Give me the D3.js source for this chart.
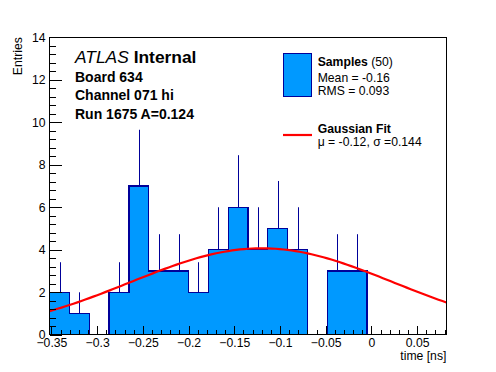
<!DOCTYPE html>
<html>
<head>
<meta charset="utf-8">
<script src="https://cdn.jsdelivr.net/npm/d3@7"></script>
<style>
  html, body { margin: 0; padding: 0; background: #fff; }
  svg { display: block; font-family: "Liberation Sans", Arial, Helvetica, sans-serif; }
</style>
</head>
<body>
<svg id="chart" width="496" height="372"></svg>
<script>
// ---- data ----
const binLow = -0.352;
const binWidth = 0.0217;
const counts = [2, 1, 0, 2, 7, 3, 3, 2, 4, 6, 4, 5, 4, 0, 3, 3, 0, 0, 0, 0];
const xMajorTicks = [-0.35, -0.3, -0.25, -0.2, -0.15, -0.1, -0.05, 0, 0.05];
const yMajorTicks = [0, 2, 4, 6, 8, 10, 12, 14];
const yMax = 14;
const fitMu = -0.12, fitSigma = 0.144, fitAmp = 4.07;
const headerLines = ["Board 634", "Channel 071 hi", "Run 1675 A=0.124"];
const legendSamples = { name: "Samples", count: "(50)", lines: ["Mean = -0.16", "RMS = 0.093"] };
const legendFit = { name: "Gaussian Fit", line: "\u03BC = -0.12, \u03C3 =0.144" };

// ---- layout ----
const W = 496, H = 372;
const fx0 = 49.6, fx1 = 446.4, fy0 = 37.2, fy1 = 334.8;
const fillColor = "#0099ff", edgeColor = "#000099", fitColor = "#ff0000";

const svg = d3.select("#chart");
const nb = counts.length;
const xMin = binLow, xMax = binLow + nb * binWidth;
const x = d3.scaleLinear().domain([xMin, xMax]).range([fx0, fx1]);
const y = d3.scaleLinear().domain([0, yMax]).range([fy1, fy0]);

const defs = svg.append("defs");
defs.append("clipPath").attr("id", "clip").append("rect")
  .attr("x", fx0).attr("y", fy0).attr("width", fx1 - fx0).attr("height", fy1 - fy0);

const bins = counts.map((c, i) => ({ x0: binLow + i * binWidth, x1: binLow + (i + 1) * binWidth, c }));

const plot = svg.append("g").attr("clip-path", "url(#clip)");

// error bars (upper part visible above bars)
plot.selectAll("line.err").data(bins.filter(b => b.c > 0)).enter().append("line")
  .attr("x1", b => Math.round(x((b.x0 + b.x1) / 2)) + 0.5)
  .attr("x2", b => Math.round(x((b.x0 + b.x1) / 2)) + 0.5)
  .attr("y1", b => y(b.c - Math.sqrt(b.c)))
  .attr("y2", b => y(b.c + Math.sqrt(b.c)))
  .attr("stroke", edgeColor).attr("stroke-width", 1);

// histogram fill
plot.selectAll("rect.bar").data(bins.filter(b => b.c > 0)).enter().append("rect")
  .attr("x", b => x(b.x0)).attr("width", b => x(b.x1) - x(b.x0))
  .attr("y", b => y(b.c)).attr("height", b => y(0) - y(b.c))
  .attr("fill", fillColor).attr("shape-rendering", "crispEdges");

// histogram outline (step contour)
const pts = [[xMin, 0]];
bins.forEach(b => { pts.push([b.x0, b.c]); pts.push([b.x1, b.c]); });
pts.push([xMax, 0]);
plot.append("path")
  .attr("d", d3.line().x(p => x(p[0])).y(p => y(p[1]))(pts))
  .attr("fill", "none").attr("stroke", edgeColor).attr("stroke-width", 1.3)
  .attr("shape-rendering", "crispEdges");

// gaussian fit
const npx = 100;
const fitPts = d3.range(npx + 1).map(i => {
  const t = xMin + (xMax - xMin) * i / npx;
  return [t, fitAmp * Math.exp(-0.5 * Math.pow((t - fitMu) / fitSigma, 2))];
});
plot.append("path")
  .attr("d", d3.line().x(p => x(p[0])).y(p => y(p[1]))(fitPts))
  .attr("fill", "none").attr("stroke", fitColor).attr("stroke-width", 2.2);

// ---- axes ----
const fmt = d3.format("~g");
const xMinor = d3.range(-35, 9).map(i => i / 100).filter(v => v >= xMin && v <= xMax);
const yMinor = d3.range(0, 36).map(i => i * 0.4).filter(v => v <= yMax);

const gxMinor = svg.append("g").attr("transform", `translate(0,${fy1})`)
  .call(d3.axisBottom(x).tickValues(xMinor).tickSize(-4.5).tickFormat(""));
const gx = svg.append("g").attr("transform", `translate(0,${fy1})`)
  .call(d3.axisBottom(x).tickValues(xMajorTicks).tickSize(-8.9).tickFormat(fmt));
const gyMinor = svg.append("g").attr("transform", `translate(${fx0},0)`)
  .call(d3.axisLeft(y).tickValues(yMinor).tickSize(-6).tickFormat(""));
const gy = svg.append("g").attr("transform", `translate(${fx0},0)`)
  .call(d3.axisLeft(y).tickValues(yMajorTicks).tickSize(-11.9).tickFormat(fmt));

[gx, gxMinor, gy, gyMinor].forEach(g => {
  g.select(".domain").remove();
  g.selectAll(".tick line").attr("stroke", "#000").attr("shape-rendering", "crispEdges");
});
gx.selectAll(".tick text").attr("y", 12.3).attr("dy", null)
  .attr("font-size", 12.2).attr("font-family", "Liberation Sans, Arial, sans-serif").attr("fill", "#000");
gy.selectAll(".tick text").attr("x", -4).attr("dy", "0.33em")
  .attr("font-size", 12.2).attr("font-family", "Liberation Sans, Arial, sans-serif").attr("fill", "#000");

// frame
svg.append("rect").attr("x", fx0).attr("y", fy0).attr("width", fx1 - fx0).attr("height", fy1 - fy0)
  .attr("fill", "none").attr("stroke", "#000").attr("stroke-width", 1).attr("shape-rendering", "crispEdges");

// axis titles
svg.append("text").attr("x", fx1).attr("y", 359.5).attr("text-anchor", "end")
  .attr("font-size", 12.2).text("time [ns]");
svg.append("text").attr("transform", `translate(22,${fy0}) rotate(-90)`).attr("text-anchor", "end")
  .attr("font-size", 12.2).text("Entries");

// header
const hdr = svg.append("text").attr("x", 75).attr("y", 63).attr("font-size", 17.4);
hdr.append("tspan").attr("font-style", "italic").text("ATLAS");
hdr.append("tspan").attr("font-weight", "bold").text(" Internal");
headerLines.forEach((t, i) => {
  svg.append("text").attr("x", 75).attr("y", 82 + i * 18.4)
    .attr("font-size", 14).attr("font-weight", "bold").text(t);
});

// legend
svg.append("rect").attr("x", 283.5).attr("y", 53.5).attr("width", 28).attr("height", 43)
  .attr("fill", fillColor).attr("stroke", edgeColor).attr("stroke-width", 1);
const l1 = svg.append("text").attr("x", 317.7).attr("y", 66).attr("font-size", 12.2);
l1.append("tspan").attr("font-weight", "bold").text(legendSamples.name);
l1.append("tspan").text(" " + legendSamples.count);
legendSamples.lines.forEach((t, i) => {
  svg.append("text").attr("x", 317.7).attr("y", 81.5 + i * 13).attr("font-size", 12.2).text(t);
});
svg.append("line").attr("x1", 283).attr("x2", 312).attr("y1", 135).attr("y2", 135)
  .attr("stroke", fitColor).attr("stroke-width", 2.2);
svg.append("text").attr("x", 317.7).attr("y", 133.3).attr("font-size", 12.2)
  .attr("font-weight", "bold").text(legendFit.name);
svg.append("text").attr("x", 317.7).attr("y", 146).attr("font-size", 12.2).text(legendFit.line);
</script>
</body>
</html>
